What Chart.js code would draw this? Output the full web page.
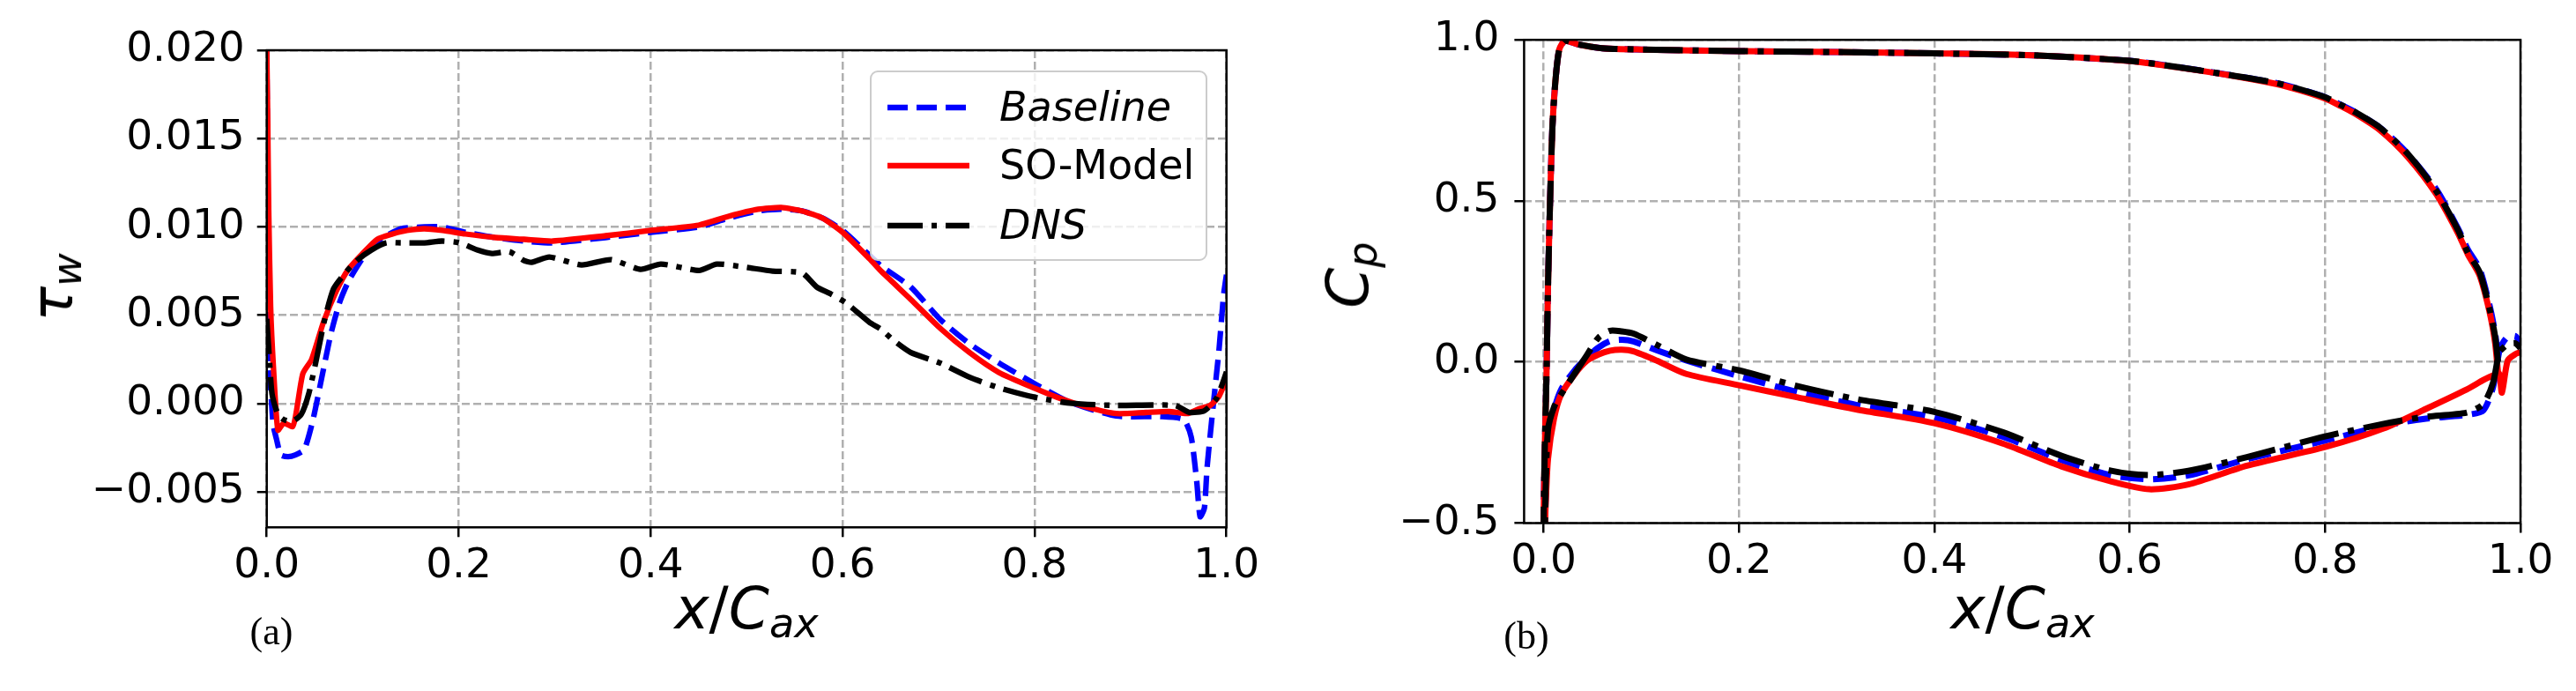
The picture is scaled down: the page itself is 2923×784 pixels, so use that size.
<!DOCTYPE html>
<html>
<head>
<meta charset="utf-8">
<script src="https://cdn.jsdelivr.net/npm/chart.js@4.4.1/dist/chart.umd.min.js"></script>
<style>
  html, body { margin: 0; padding: 0; background: #fff; }
  #wrap { position: relative; width: 2923px; height: 784px; overflow: hidden; font-family: "DejaVu Sans", sans-serif; color: #000; }
  canvas { position: absolute; top: 0; }
  #cA { left: 0; }
  #cB { left: 1480px; }
  .lbl { position: absolute; white-space: nowrap; font-size: 66px; line-height: 1; }
  .lbl i { font-style: italic; }
  .sub { font-size: 0.7em; position: relative; top: 0.22em; }
  .tag { position: absolute; white-space: nowrap; font-family: "Liberation Serif", serif; font-size: 44px; line-height: 1; transform: translate(-50%, -50%); }
  .legend { position: absolute; box-sizing: border-box; border: 2.5px solid #cccccc; border-radius: 9px; background: rgba(255,255,255,0.8); }
  .legend .row { position: absolute; left: 0; height: 0; }
  .legend svg { position: absolute; left: 16px; top: -10px; }
  .legend span { position: absolute; left: 145px; top: -24px; font-size: 46px; line-height: 1; white-space: nowrap; }
</style>
</head>
<body>
<div id="wrap">
  <canvas id="cA" width="1480" height="784"></canvas>
  <canvas id="cB" width="1443" height="784"></canvas>

  <div class="lbl" style="left:60px; top:326px; transform: translate(-50%,-50%) rotate(-90deg);"><i>τ</i><span class="sub"><i>w</i></span></div>
  <div class="lbl" style="left:847px; top:658px; transform: translateX(-50%);"><i>x</i>/<i>C</i><span class="sub"><i>ax</i></span></div>
  <div class="tag" style="left:308px; top:717px;">(a)</div>

  <div class="lbl" style="left:1530px; top:312px; transform: translate(-50%,-50%) rotate(-90deg);"><i>C</i><span class="sub"><i>p</i></span></div>
  <div class="lbl" style="left:2295px; top:658px; transform: translateX(-50%);"><i>x</i>/<i>C</i><span class="sub"><i>ax</i></span></div>
  <div class="tag" style="left:1732px; top:722px;">(b)</div>

  <div class="legend" style="left:987px; top:80px; width:383px; height:216px;">
    <div class="row" style="top:40px;">
      <svg width="100" height="20"><line x1="2" y1="10" x2="95" y2="10" stroke="#0000ff" stroke-width="6.3" stroke-dasharray="23 10"/></svg>
      <span><i>Baseline</i></span>
    </div>
    <div class="row" style="top:106px;">
      <svg width="100" height="20"><line x1="2" y1="10" x2="95" y2="10" stroke="#ff0000" stroke-width="6.3"/></svg>
      <span>SO-Model</span>
    </div>
    <div class="row" style="top:174px;">
      <svg width="100" height="20"><line x1="2" y1="10" x2="95" y2="10" stroke="#000000" stroke-width="6.3" stroke-dasharray="40 10 6 10"/></svg>
      <span><i>DNS</i></span>
    </div>
  </div>
</div>

<script>
// ---- panel (a): wall shear stress tau_w vs x/C_ax ----
const twXBase = [0, 0.0015, 0.0024, 0.004, 0.0067, 0.0101, 0.0147, 0.0223, 0.0299, 0.0391,
  0.0482, 0.0574, 0.0666, 0.0757, 0.0849, 0.0971, 0.1093, 0.1215, 0.1398, 0.1643,
  0.1826, 0.207, 0.238, 0.268, 0.298, 0.353, 0.40, 0.45, 0.481, 0.512,
  0.536, 0.558, 0.579, 0.60, 0.628, 0.64, 0.671, 0.702, 0.732, 0.763,
  0.801, 0.836, 0.885, 0.931, 0.9555, 0.9633, 0.969, 0.9725, 0.977, 0.9798,
  0.986, 0.9923, 0.9969, 1.0];
const twBase = [0.0200, 0.0080, 0.0035, 0.0010, -0.0012, -0.0020, -0.0029, -0.0030, -0.0029, -0.0026,
  -0.0009, 0.0015, 0.0039, 0.0057, 0.0069, 0.0080, 0.0089, 0.0094, 0.0099, 0.0100,
  0.0100, 0.0097, 0.0094, 0.0092, 0.0091, 0.0094, 0.0097, 0.0100, 0.0105, 0.0109,
  0.0110, 0.0109, 0.0105, 0.0098, 0.0084, 0.0078, 0.0066, 0.00475, 0.0034, 0.0023,
  0.0011, 0.0001, -0.0007, -0.00073, -0.0009, -0.0019, -0.0044, -0.0064, -0.0059, -0.0036,
  -0.0002, 0.0031, 0.0061, 0.0073];

const twXSO = [0, 0.001, 0.002, 0.004, 0.007, 0.0116, 0.0177, 0.027, 0.031, 0.0376,
  0.0467, 0.059, 0.0727, 0.085, 0.10, 0.115, 0.131, 0.146, 0.164, 0.183,
  0.207, 0.238, 0.268, 0.298, 0.353, 0.40, 0.45, 0.481, 0.512, 0.536,
  0.558, 0.579, 0.60, 0.628, 0.64, 0.671, 0.702, 0.732, 0.763, 0.801,
  0.824, 0.855, 0.885, 0.916, 0.94, 0.959, 0.971, 0.983, 0.992, 0.9985, 1.0];
const twSO = [0.0200, 0.0160, 0.0110, 0.0055, 0.0020, -0.0015, -0.0011, -0.0013, -0.0004, 0.0017,
  0.0025, 0.0046, 0.0064, 0.0076, 0.0085, 0.0093, 0.0096, 0.0098, 0.0099, 0.0098,
  0.0096, 0.0094, 0.0093, 0.0092, 0.0095, 0.0098, 0.0101, 0.0106, 0.0110, 0.0111,
  0.0109, 0.0105, 0.0097, 0.0082, 0.0075, 0.0059, 0.00425, 0.0029, 0.00176, 0.00085,
  0.00035, -0.0002, -0.00056, -0.0005, -0.00045, -0.00056, -0.0003, -0.0001, 0.0004, 0.0012, 0.0015];

const twXDNS = [0, 0.0024, 0.0055, 0.0116, 0.0177, 0.0269, 0.036, 0.0437, 0.0513, 0.0605,
  0.0696, 0.0818, 0.094, 0.1093, 0.1246, 0.1398, 0.1643, 0.1826, 0.2009, 0.2192,
  0.2345, 0.2528, 0.268, 0.276, 0.2944, 0.328, 0.3587, 0.3894, 0.4107, 0.4505,
  0.4689, 0.4964, 0.527, 0.5577, 0.573, 0.588, 0.6036, 0.628, 0.6403, 0.6526,
  0.6709, 0.7016, 0.7321, 0.7627, 0.8011, 0.839, 0.8852, 0.9464, 0.9617, 0.977,
  0.9893, 0.9969, 1.0];
const twDNS = [0.0048, 0.0028, 0.00055, -0.0006, -0.0009, -0.0010, -0.0006, 0.00055, 0.0024, 0.0048,
  0.0065, 0.0074, 0.0081, 0.0087, 0.0091, 0.0091, 0.0091, 0.0092, 0.0091, 0.0087,
  0.0085, 0.0086, 0.0081, 0.0080, 0.0083, 0.00785, 0.00815, 0.0076, 0.0079, 0.00754,
  0.0079, 0.00774, 0.0075, 0.0074, 0.0066, 0.0062, 0.0057, 0.0046, 0.0042, 0.0036,
  0.0029, 0.0023, 0.0015, 0.0009, 0.00035, 0.00002, -0.0001, -0.0001, -0.0005, -0.0004,
  0.00027, 0.0013, 0.0018];

const twXTicks = [0, 0.2, 0.4, 0.6, 0.8, 1.0];
const twXTickLabels = ['0.0', '0.2', '0.4', '0.6', '0.8', '1.0'];
const twYTicks = [-0.005, 0, 0.005, 0.010, 0.015, 0.020];
const twYTickLabels = ['\u22120.005', '0.000', '0.005', '0.010', '0.015', '0.020'];

// ---- panel (b): pressure coefficient Cp, pressure side then suction side ----
const cpXPressure = [0.977, 0.974, 0.968, 0.958, 0.946, 0.936, 0.914, 0.885, 0.856, 0.83,
  0.815, 0.8, 0.775, 0.75, 0.7, 0.65, 0.6, 0.5, 0.4, 0.3,
  0.2, 0.1, 0.06, 0.035, 0.022, 0.016, 0.012, 0.009, 0.0066, 0.0045,
  0.003, 0.002, 0.0006, 0.0];
const cpBasePressure = [0.01, 0.09, 0.18, 0.29, 0.35, 0.415, 0.535, 0.645, 0.728, 0.777,
  0.80, 0.822, 0.846, 0.866, 0.892, 0.915, 0.935, 0.952, 0.958, 0.962,
  0.965, 0.97, 0.974, 0.986, 0.997, 0.97, 0.87, 0.73, 0.5, 0.24,
  -0.03, -0.16, -0.36, -0.55];
const cpSOPressure = [-0.033, 0.06, 0.16, 0.27, 0.335, 0.40, 0.52, 0.635, 0.72, 0.772,
  0.796, 0.818, 0.843, 0.863, 0.891, 0.914, 0.934, 0.952, 0.958, 0.962,
  0.965, 0.97, 0.974, 0.986, 0.997, 0.97, 0.87, 0.73, 0.5, 0.24,
  -0.03, -0.16, -0.36, -0.55];
const cpDNSPressure = [0.0, 0.08, 0.17, 0.28, 0.34, 0.41, 0.53, 0.645, 0.728, 0.777,
  0.80, 0.822, 0.846, 0.866, 0.892, 0.915, 0.935, 0.952, 0.958, 0.962,
  0.965, 0.97, 0.974, 0.986, 0.997, 0.97, 0.87, 0.73, 0.5, 0.24,
  -0.03, -0.16, -0.36, -0.55];

const cpXSuction = [0.001, 0.002, 0.0045, 0.0106, 0.018, 0.032, 0.044, 0.056, 0.068, 0.08,
  0.092, 0.116, 0.146, 0.2, 0.26, 0.32, 0.4, 0.47, 0.53, 0.58,
  0.62, 0.66, 0.72, 0.8, 0.86, 0.9, 0.945, 0.962, 0.972, 0.978,
  0.981, 0.987, 0.995, 1.0];
const cpBaseSuction = [-0.55, -0.42, -0.26, -0.15, -0.085, -0.025, 0.013, 0.045, 0.065, 0.069,
  0.064, 0.036, 0.005, -0.044, -0.093, -0.133, -0.172, -0.232, -0.304, -0.351,
  -0.364, -0.352, -0.302, -0.244, -0.198, -0.177, -0.164, -0.15, -0.077, 0.029,
  0.055, 0.078, 0.08, 0.056];
const cpSOSuction = [-0.55, -0.45, -0.30, -0.176, -0.10, -0.037, 0.003, 0.023, 0.035, 0.038,
  0.033, 0.004, -0.037, -0.072, -0.11, -0.147, -0.19, -0.253, -0.324, -0.37,
  -0.395, -0.38, -0.322, -0.264, -0.206, -0.15, -0.085, -0.056, -0.042, -0.035,
  -0.095, 0.005, 0.025, 0.03];
const cpDNSSuction = [-0.55, -0.40, -0.21, -0.14, -0.10, -0.035, 0.02, 0.075, 0.097, 0.095,
  0.088, 0.053, 0.008, -0.026, -0.075, -0.115, -0.155, -0.218, -0.291, -0.337,
  -0.351, -0.338, -0.295, -0.231, -0.192, -0.171, -0.157, -0.13, -0.064, 0.029,
  0.04, 0.055, 0.058, 0.043];

const cpXTicks = [0, 0.2, 0.4, 0.6, 0.8, 1.0];
const cpXTickLabels = ['0.0', '0.2', '0.4', '0.6', '0.8', '1.0'];
const cpYTicks = [-0.5, 0, 0.5, 1.0];
const cpYTickLabels = ['\u22120.5', '0.0', '0.5', '1.0'];

const seriesNames = ['Baseline', 'SO-Model', 'DNS'];
const seriesColors = ['#0000ff', '#ff0000', '#000000'];

const pts = (xs, ys) => xs.map((x, i) => ({ x: x, y: ys[i] }));

// matplotlib-like box around the plot area
const frame = {
  id: 'frame',
  afterDatasetsDraw(chart) {
    const { ctx, chartArea: a } = chart;
    ctx.save();
    ctx.strokeStyle = '#000';
    ctx.lineWidth = 2.5;
    ctx.strokeRect(a.left, a.top, a.right - a.left, a.bottom - a.top);
    ctx.restore();
  }
};

function axis(min, max, ticks, labels, fit) {
  return {
    type: 'linear',
    min: min,
    max: max,
    afterBuildTicks: s => { s.ticks = ticks.map(v => ({ value: v })); },
    afterFit: fit,
    grid: { color: '#b0b0b0', lineWidth: 2.5, drawTicks: true, tickLength: 11,
            tickColor: '#000', tickWidth: 2.5, tickBorderDash: [] },
    border: { display: false, dash: [9, 4] },
    ticks: {
      color: '#000', font: { family: 'DejaVu Sans', size: 47 },
      autoSkip: false, maxRotation: 0, minRotation: 0,
      callback: (v, i) => labels[i]
    }
  };
}

// order: larger numbers are drawn first, so DNS ends up on top like the original
function lineSet(label, data, color, dash, width, order) {
  return {
    label: label, data: data, showLine: true, fill: false, order: order,
    borderColor: color, backgroundColor: color, borderWidth: width,
    borderDash: dash, borderCapStyle: 'butt', borderJoinStyle: 'round',
    pointRadius: 0, pointHoverRadius: 0, tension: 0.2
  };
}

const common = {
  responsive: false, animation: false, devicePixelRatio: 1,
  plugins: { legend: { display: false }, tooltip: { enabled: false } }
};

// panel (a)
const xA = axis(0, 1.0, twXTicks, twXTickLabels, s => { s.height = 185.7; });
xA.ticks.padding = 5;
const yA = axis(-0.007, 0.020, twYTicks, twYTickLabels, s => { s.width = 302.7; });
yA.ticks.padding = 14;

new Chart(document.getElementById('cA'), {
  type: 'scatter',
  data: {
    datasets: [
      lineSet(seriesNames[0], pts(twXBase, twBase), seriesColors[0], [23, 10], 6.3, 3),
      lineSet(seriesNames[1], pts(twXSO, twSO), seriesColors[1], [], 6.3, 2),
      lineSet(seriesNames[2], pts(twXDNS, twDNS), seriesColors[2], [40, 10, 6, 10], 6.3, 1)
    ]
  },
  options: Object.assign({}, common, {
    layout: { padding: { top: 57, right: 88.3, bottom: 0, left: 0 } },
    scales: { x: xA, y: yA }
  }),
  plugins: [frame]
});

// panel (b)
const xB = axis(-0.02, 1.0, cpXTicks, cpXTickLabels, s => { s.height = 190.5; });
xB.ticks.padding = 5;
const yB = axis(-0.5, 1.0, cpYTicks, cpYTickLabels, s => { s.width = 249.4; });
yB.ticks.padding = 17;

const loop = (ys1, ys2) => pts(cpXPressure, ys1).concat(pts(cpXSuction, ys2));

const bSets = [
  lineSet(seriesNames[0], loop(cpBasePressure, cpBaseSuction), seriesColors[0], [26, 11], 7, 3),
  lineSet(seriesNames[1], loop(cpSOPressure, cpSOSuction), seriesColors[1], [], 7, 2),
  lineSet(seriesNames[2], loop(cpDNSPressure, cpDNSSuction), seriesColors[2], [45, 11, 7, 11], 7, 1)
];
bSets.forEach(d => { d.tension = 0.25; });

new Chart(document.getElementById('cB'), {
  type: 'scatter',
  data: { datasets: bSets },
  options: Object.assign({}, common, {
    layout: { padding: { top: 31, right: 63, bottom: 0, left: 0 } },
    scales: { x: xB, y: yB }
  }),
  plugins: [frame]
});
</script>
</body>
</html>
